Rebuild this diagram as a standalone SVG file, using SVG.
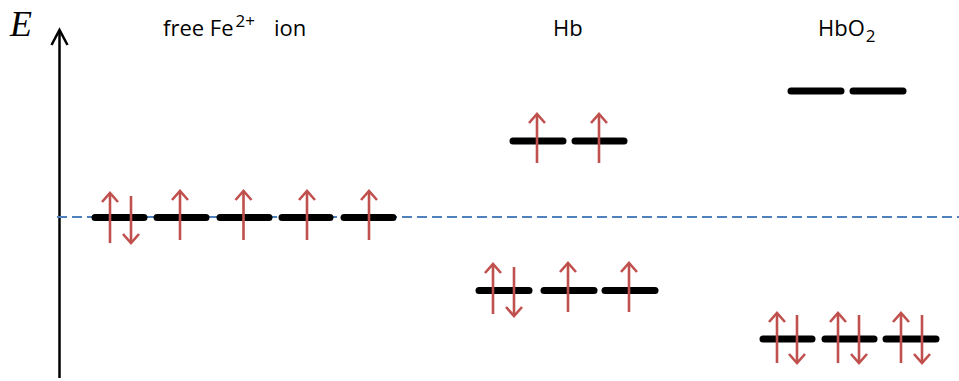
<svg xmlns="http://www.w3.org/2000/svg" width="959" height="381" viewBox="0 0 959 381">
<style>
.lvl{stroke:#000;stroke-width:7;stroke-linecap:round;fill:none}
.spin{stroke:#c0504d;stroke-width:2.6;fill:none}
.head{stroke:#c0504d;stroke-width:2.6;fill:none;stroke-linejoin:miter}
.title{font-family:"Open Sans","Noto Sans",sans-serif;font-size:22px;fill:#000}
</style>
<defs>
<marker id="ah" markerUnits="userSpaceOnUse" viewBox="-12 -10 14 20" refX="0" refY="0" markerWidth="14" markerHeight="20" orient="auto" overflow="visible">
<path d="M-9,-8 L0,0 L-9,8" class="head"/>
</marker>
<marker id="axh" markerUnits="userSpaceOnUse" viewBox="-18 -10 20 20" refX="0" refY="0" markerWidth="20" markerHeight="20" orient="auto" overflow="visible">
<path d="M-15,-8 L0,0 L-15,8" stroke="#000" stroke-width="2.5" fill="none"/>
</marker>
</defs>
<rect width="959" height="381" fill="#fff"/>
<g id="axis">
<line x1="59.5" y1="378" x2="59.5" y2="30" stroke="#000" stroke-width="2.5" marker-end="url(#axh)"/>
<text x="10" y="36" font-family="Liberation Serif,serif" font-style="italic" font-size="36">E</text>
</g>
<line id="reference" x1="57" y1="217" x2="959" y2="217" stroke="#4f81bd" stroke-width="1.8" stroke-dasharray="10,5"/>
<g id="labels">
<text class="title" x="163" y="36">free Fe<tspan dx="2" font-size="17" dy="-9">2+</tspan><tspan x="274" dy="9">ion</tspan></text>
<text class="title" x="553" y="36">Hb</text>
<text class="title" x="818" y="36">HbO<tspan dx="1" font-size="17" dy="6">2</tspan></text>
</g>
<g id="free-ion">
<line class="lvl" x1="95" y1="217.5" x2="144" y2="217.5"/>
<line class="lvl" x1="157" y1="217.5" x2="206" y2="217.5"/>
<line class="lvl" x1="220" y1="217.5" x2="269" y2="217.5"/>
<line class="lvl" x1="282" y1="217.5" x2="330" y2="217.5"/>
<line class="lvl" x1="344" y1="217.5" x2="393" y2="217.5"/>
<line class="spin" x1="110" y1="243" x2="110" y2="193" marker-end="url(#ah)"/>
<line class="spin" x1="131" y1="196" x2="131" y2="243" marker-end="url(#ah)"/>
<line class="spin" x1="180" y1="240" x2="180" y2="191" marker-end="url(#ah)"/>
<line class="spin" x1="243.5" y1="240" x2="243.5" y2="191" marker-end="url(#ah)"/>
<line class="spin" x1="307" y1="240" x2="307" y2="191" marker-end="url(#ah)"/>
<line class="spin" x1="369" y1="240" x2="369" y2="191" marker-end="url(#ah)"/>
</g>
<g id="hb">
<line class="lvl" x1="513" y1="141" x2="563" y2="141"/>
<line class="lvl" x1="575" y1="141" x2="624" y2="141"/>
<line class="spin" x1="537" y1="163" x2="537" y2="114" marker-end="url(#ah)"/>
<line class="spin" x1="599" y1="163" x2="599" y2="114" marker-end="url(#ah)"/>
<line class="lvl" x1="479" y1="290.5" x2="529" y2="290.5"/>
<line class="lvl" x1="544" y1="290.5" x2="594" y2="290.5"/>
<line class="lvl" x1="605" y1="290.5" x2="655" y2="290.5"/>
<line class="spin" x1="493" y1="314" x2="493" y2="264" marker-end="url(#ah)"/>
<line class="spin" x1="514" y1="267" x2="514" y2="316" marker-end="url(#ah)"/>
<line class="spin" x1="568" y1="312" x2="568" y2="263" marker-end="url(#ah)"/>
<line class="spin" x1="629" y1="312" x2="629" y2="263" marker-end="url(#ah)"/>
</g>
<g id="hbo2">
<line class="lvl" x1="791" y1="91" x2="841" y2="91"/>
<line class="lvl" x1="853" y1="91" x2="903" y2="91"/>
<line class="lvl" x1="763" y1="339" x2="812" y2="339"/>
<line class="lvl" x1="825" y1="339" x2="874" y2="339"/>
<line class="lvl" x1="886" y1="339" x2="936" y2="339"/>
<line class="spin" x1="777" y1="363" x2="777" y2="313" marker-end="url(#ah)"/>
<line class="spin" x1="797" y1="315" x2="797" y2="363" marker-end="url(#ah)"/>
<line class="spin" x1="838" y1="363" x2="838" y2="313" marker-end="url(#ah)"/>
<line class="spin" x1="859" y1="315" x2="859" y2="363" marker-end="url(#ah)"/>
<line class="spin" x1="901" y1="363" x2="901" y2="313" marker-end="url(#ah)"/>
<line class="spin" x1="922" y1="315" x2="922" y2="363" marker-end="url(#ah)"/>
</g>
</svg>
